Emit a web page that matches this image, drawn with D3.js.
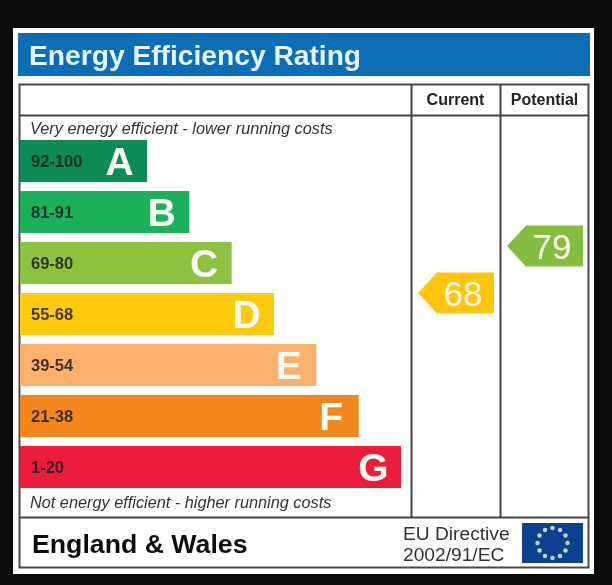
<!DOCTYPE html>
<html lang="en">
<head>
<meta charset="utf-8">
<title>Energy Efficiency Rating</title>
<script src="https://d3js.org/d3.v7.min.js"></script>
<style>
html,body{margin:0;padding:0;background:#0b0b0b;}
svg{display:block;font-family:"Liberation Sans",Arial,sans-serif;}
</style>
</head>
<body>
<div id="chart"></div>
<script>
// chart values
var letters = ["A","B","C","D","E","F","G"]
var ranges = ["92-100","81-91","69-80","55-68","39-54","21-38","1-20"]
var barLengths = [1,2,3,4,5,6,7]
var barColors = ["#0f8b57","#1fb05a","#8dc13f","#fdca0b","#fbb16e","#f3861f","#ec1b3b"]
var columns = ["Current","Potential"]
var scores = [68,79]
var scoreColors = ["#fdc60f","#84bd41"]

var w = 612, h = 585
var svg = d3.select("#chart").append("svg").attr("width",w).attr("height",h)

// slight softening, the source picture is a blurry photo
var defs = svg.append("defs")
defs.append("filter").attr("id","soft")
    .append("feGaussianBlur").attr("stdDeviation",0.7)
var g = svg.append("g").attr("filter","url(#soft)")

// scales
var xBar = d3.scaleLinear().domain([1,7]).range([147,401])
var yBar = d3.scaleBand().domain(letters).range([140,488]).paddingInner(0.175)
var xCol = d3.scaleOrdinal().domain(columns).range([455.5,544.5])
var yScore = d3.scaleLinear().domain([68,79]).range([293,246])
var arrowLeft = d3.scaleOrdinal().domain(columns).range([418,507])
var arrowRight = d3.scaleOrdinal().domain(columns).range([494,583])

// panel and header
g.append("rect").attr("x",13).attr("y",28).attr("width",581).attr("height",546).attr("fill","#fff")
g.append("rect").attr("x",18).attr("y",33).attr("width",572).attr("height",43).attr("fill","#0a6eb6")
g.append("text").attr("x",29).attr("y",65).attr("font-size",28.2).attr("font-weight","bold")
    .attr("fill","#e4f6fb").text("Energy Efficiency Rating")

// table frame
g.append("rect").attr("x",19.5).attr("y",84.5).attr("width",569).attr("height",483)
    .attr("fill","none").attr("stroke","#4a4a4a").attr("stroke-width",2)
var rules = [[19,589,115.5,115.5],[19,589,517.5,517.5],[411.5,411.5,84,518],[500.5,500.5,84,518]]
g.selectAll("line.rule").data(rules).enter().append("line")
    .attr("class","rule")
    .attr("x1",function(d){return d[0]}).attr("x2",function(d){return d[1]})
    .attr("y1",function(d){return d[2]}).attr("y2",function(d){return d[3]})
    .attr("stroke","#444").attr("stroke-width",2)

// column titles
g.selectAll("text.col").data(columns).enter().append("text")
    .attr("class","col")
    .attr("x",function(d){return xCol(d)}).attr("y",105)
    .attr("text-anchor","middle").attr("font-size",16).attr("font-weight","bold").attr("fill","#222")
    .text(function(d){return d})

// notes
g.append("text").attr("x",30).attr("y",134).attr("font-size",16.3).attr("font-style","italic").attr("fill","#333")
    .text("Very energy efficient - lower running costs")
g.append("text").attr("x",30).attr("y",508).attr("font-size",16.3).attr("font-style","italic").attr("fill","#333")
    .text("Not energy efficient - higher running costs")

// bars
g.selectAll("rect.bar").data(letters).enter().append("rect")
    .attr("class","bar")
    .attr("x",20)
    .attr("y",function(d){return yBar(d)})
    .attr("width",function(d,i){return xBar(barLengths[i])-20})
    .attr("height",yBar.bandwidth())
    .attr("fill",function(d,i){return barColors[i]})
g.selectAll("text.range").data(letters).enter().append("text")
    .attr("class","range")
    .attr("x",31)
    .attr("y",function(d){return yBar(d)+yBar.bandwidth()/2+6})
    .attr("font-size",16.5).attr("font-weight","bold").attr("fill","#1d1d1d")
    .attr("fill-opacity",0.85)
    .text(function(d,i){return ranges[i]})
g.selectAll("text.letter").data(letters).enter().append("text")
    .attr("class","letter")
    .attr("x",function(d,i){return xBar(barLengths[i])-27.5})
    .attr("y",function(d){return yBar(d)+yBar.bandwidth()/2+14})
    .attr("text-anchor","middle").attr("font-size",39).attr("font-weight","bold").attr("fill","#f6fbf4")
    .text(function(d){return d})

// score arrows
var half = 20.5, head = 19
g.selectAll("path.arrow").data(columns).enter().append("path")
    .attr("class","arrow")
    .attr("d",function(d,i){
        var y = yScore(scores[i]), l = arrowLeft(d), r = arrowRight(d)
        return d3.line()([[l,y],[l+head,y-half],[r,y-half],[r,y+half],[l+head,y+half]])+"Z"
    })
    .attr("fill",function(d,i){return scoreColors[i]})
g.selectAll("text.score").data(columns).enter().append("text")
    .attr("class","score")
    .attr("x",function(d){return arrowRight(d)-11.5})
    .attr("y",function(d,i){return yScore(scores[i])+13})
    .attr("text-anchor","end").attr("font-size",35).attr("fill","#fbf8e4")
    .text(function(d,i){return scores[i]})

// footer
g.append("text").attr("x",32).attr("y",553).attr("font-size",26.7).attr("font-weight","bold").attr("fill","#111")
    .text("England & Wales")
g.append("text").attr("x",403).attr("y",540).attr("font-size",19.2).attr("fill","#333").text("EU Directive")
g.append("text").attr("x",403).attr("y",561).attr("font-size",19.2).attr("fill","#333").text("2002/91/EC")

// EU flag
g.append("rect").attr("x",522).attr("y",523).attr("width",61).attr("height",40).attr("fill","#10418e")
var stars = d3.range(12)
var star = d3.symbol().type(d3.symbolCircle).size(16)
g.selectAll("path.star").data(stars).enter().append("path")
    .attr("class","star")
    .attr("d",star)
    .attr("fill","#b4dcc0")
    .attr("transform",function(d){
        var a = d/12*2*Math.PI
        return "translate("+(552.5+15*Math.sin(a))+","+(543-15*Math.cos(a))+")"
    })
</script>
</body>
</html>
